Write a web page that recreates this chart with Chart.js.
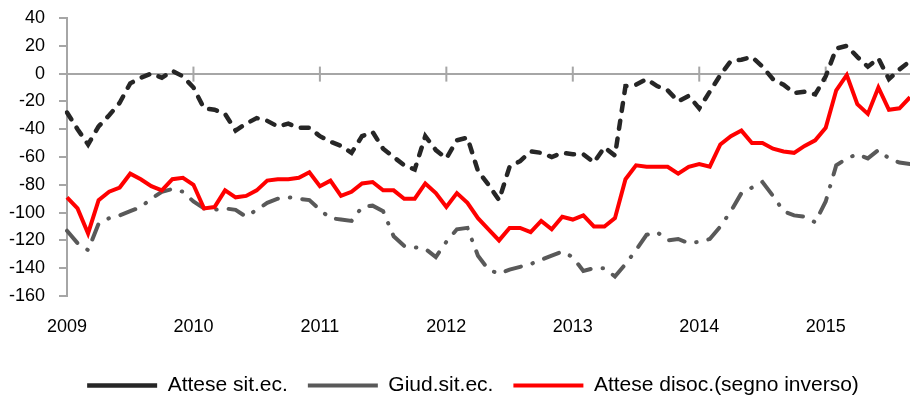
<!DOCTYPE html>
<html>
<head>
<meta charset="utf-8">
<script src="https://cdn.jsdelivr.net/npm/chart.js@4.4.1/dist/chart.umd.min.js"></script>
<style>
  html, body { margin: 0; padding: 0; background: #fff; overflow: hidden; }
  #wrap { width: 910px; height: 409px; position: relative; }
</style>
</head>
<body>
<div id="wrap"><canvas id="chart"></canvas></div>
<script>
// mesi da gen 2009 a set 2015
var months = [];
for (var y = 2009; y <= 2015; y++) {
    for (var m = 1; m <= 12; m++) {
        if (y === 2015 && m > 9) break;
        months.push(y + "-" + (m < 10 ? "0" + m : m));
    }
}
var yearTicks = ["2009", "2010", "2011", "2012", "2013", "2014", "2015"];

var atteseSitEc = [
    -28, -40, -51, -38, -30, -21, -7, -3, 0, -3,
    2, -2, -10, -25, -26, -29, -41, -36, -32, -34,
    -38, -36, -39, -39, -45, -49, -52, -57, -45, -42,
    -54, -60, -66, -69, -45, -55, -61, -48, -46, -70,
    -80, -91, -67, -63, -56, -57, -60, -57, -58, -58,
    -64, -53, -59, -9, -8, -4, -9, -12, -20, -16,
    -25, -13, -1, 9, 10, 12, 5, -4, -8, -14,
    -13, -15, -2, 18, 20, 12, 5, 11, -4, 3, 9
];
var giudSitEc = [
    -113, -122, -127, -108, -104, -102, -99, -96, -90, -85,
    -83, -85, -92, -97, -98, -97, -98, -103, -98, -93,
    -90, -89, -90, -91, -98, -104, -105, -106, -96, -95,
    -99, -117, -124, -125, -126, -132, -121, -112, -111, -131,
    -141, -144, -141, -139, -137, -134, -131, -128, -132, -142,
    -140, -140, -146, -137, -127, -116, -114, -120, -119, -122,
    -121, -119, -110, -99, -86, -82, -78, -88, -99, -102,
    -103, -107, -92, -66, -61, -58, -61, -55, -61, -64, -65
];
var atteseDisoc = [
    -89, -97, -115, -91, -85, -82, -72, -76, -81, -84,
    -76, -75, -80, -97, -96, -84, -89, -88, -84, -77,
    -76, -76, -75, -71, -81, -77, -88, -85, -79, -78,
    -84, -84, -90, -90, -79, -86, -96, -86, -93, -104,
    -112, -120, -111, -111, -114, -106, -112, -103, -105, -102,
    -110, -110, -104, -76, -66, -67, -67, -67, -72, -67,
    -65, -67, -51, -45, -41, -50, -50, -54, -56, -57,
    -52, -48, -39, -12, -1, -22, -29, -10, -26, -25, -17
];

var axisGrey = "#a6a6a6";
var font = "'Liberation Sans', Arial, sans-serif";

var zeroTicks = {
    id: "zeroTicks",
    afterLayout: function(chart) {
        // legenda un po' spostata (a destra e in alto) come nell'originale
        chart.legend.left += 36;
        chart.legend.top -= 3;
    },
    // tacche annuali sulla linea dello zero
    beforeDatasetsDraw: function(chart) {
        var xs = chart.scales.x, ys = chart.scales.y, c = chart.ctx;
        var y0 = ys.getPixelForValue(0);
        c.save();
        c.strokeStyle = axisGrey;
        c.lineWidth = 2;
        for (var i = 12; i < months.length; i += 12) {
            var x = xs.getPixelForValue(i);
            c.beginPath();
            c.moveTo(x, y0 - 7);
            c.lineTo(x, y0 + 8);
            c.stroke();
        }
        c.restore();
    }
};

new Chart(document.getElementById("chart"), {
    type: "line",
    data: {
        labels: months,
        datasets: [{
            label: "Attese sit.ec.",
            data: atteseSitEc,
            borderColor: "#262626",
            backgroundColor: "#262626",
            borderWidth: 4.5,
            borderDash: [8, 10],
            borderCapStyle: "round",
            pointRadius: 0,
            tension: 0,
            order: 0
        }, {
            label: "Giud.sit.ec.",
            data: giudSitEc,
            borderColor: "#595959",
            backgroundColor: "#595959",
            borderWidth: 4,
            borderDash: [16, 12, 0.5, 12],
            borderCapStyle: "round",
            pointRadius: 0,
            tension: 0,
            order: 2
        }, {
            label: "Attese disoc.(segno inverso)",
            data: atteseDisoc,
            borderColor: "#ff0000",
            backgroundColor: "#ff0000",
            borderWidth: 4,
            pointRadius: 0,
            tension: 0,
            order: 1
        }]
    },
    options: {
        responsive: true,
        maintainAspectRatio: false,
        animation: false,
        layout: { padding: 0 },
        plugins: {
            tooltip: { enabled: false },
            legend: {
                position: "bottom",
                labels: {
                    font: { family: font, size: 21 },
                    color: "#000",
                    usePointStyle: true,
                    pointStyle: "line",
                    pointStyleWidth: 70,
                    padding: 20,
                    sort: function(a, b) { return a.datasetIndex - b.datasetIndex; }
                }
            }
        },
        scales: {
            x: {
                grid: { display: false },
                border: { display: false },
                afterFit: function(scale) {
                    scale.height = 62;
                    scale.paddingRight = 0;
                },
                ticks: {
                    autoSkip: false,
                    maxRotation: 0,
                    padding: 12,
                    color: "#000",
                    font: { family: font, size: 18 },
                    callback: function(v, i) {
                        return i % 12 === 0 ? yearTicks[i / 12] : "";
                    }
                }
            },
            y: {
                min: -160,
                max: 40,
                afterFit: function(scale) {
                    scale.width = 67;
                    scale.paddingTop = 18;
                    scale.paddingBottom = 0;
                },
                border: { display: true, color: axisGrey, width: 2 },
                grid: {
                    drawOnChartArea: true,
                    drawTicks: true,
                    tickLength: 8,
                    lineWidth: 2,
                    tickColor: axisGrey,
                    color: function(ctx) {
                        return ctx.tick && ctx.tick.value === 0 ? axisGrey : "transparent";
                    }
                },
                ticks: {
                    stepSize: 20,
                    padding: 14,
                    color: "#000",
                    font: { family: font, size: 18 }
                }
            }
        }
    },
    plugins: [zeroTicks]
});
</script>
</body>
</html>
